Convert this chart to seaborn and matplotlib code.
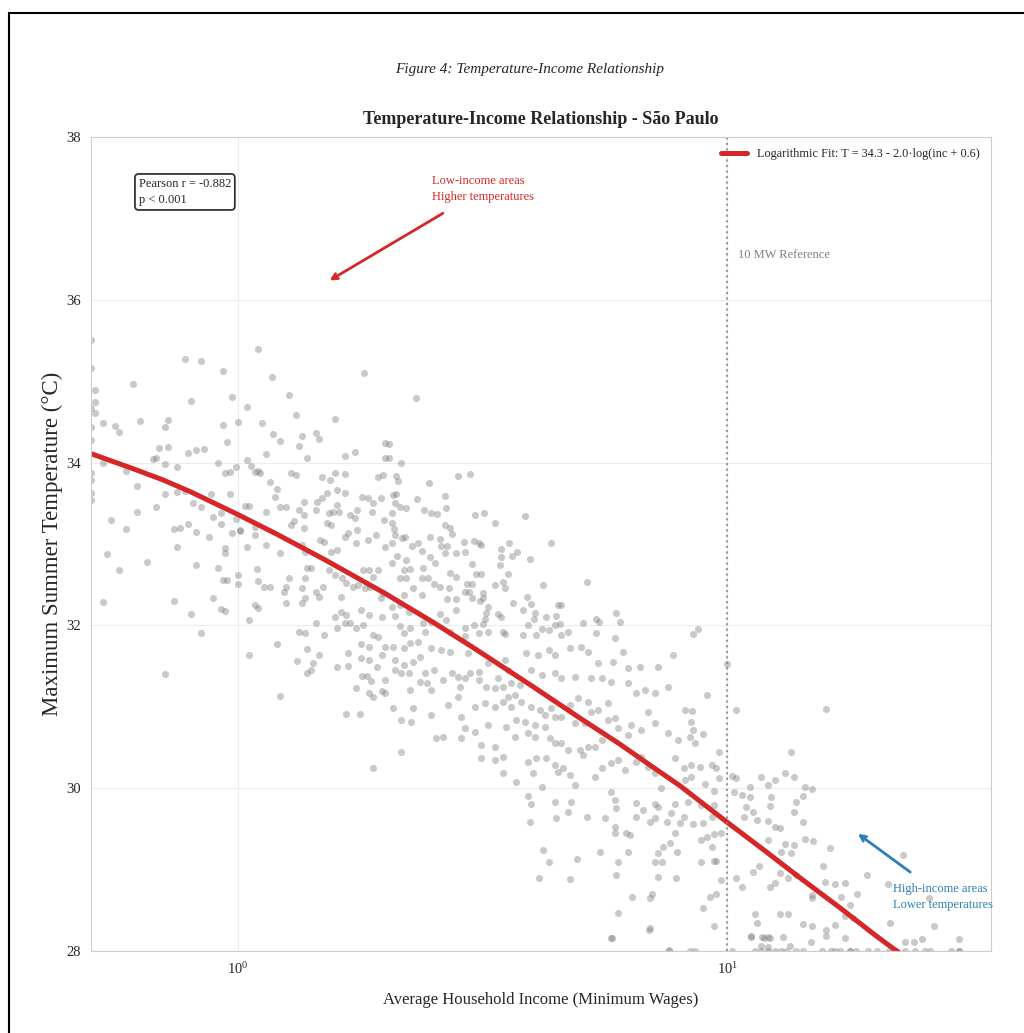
import matplotlib
matplotlib.use("Agg")
import matplotlib.pyplot as plt
from matplotlib.patches import Rectangle
import seaborn as sns
import pandas as pd

# scatter values (income in minimum wages, max summer temp in C)
income = [
    # left edge
    0.50, 0.50, 0.51, 0.51, 0.50, 0.51, 0.50, 0.50, 0.50, 0.50, 0.50, 0.50,
    # income below 2 MW
    0.78, 0.84, 0.93, 1.10, 1.17, 1.81, 0.61, 0.80, 0.97, 1.04, 1.27, 1.31, 1.58, 0.53, 0.56, 0.57,
    0.63, 0.71, 0.72, 0.93, 1.00, 1.12, 1.18, 1.22, 1.35, 1.33, 1.44, 1.46, 0.95, 0.69, 0.72, 0.79,
    0.82, 0.85, 1.14, 1.38, 1.65, 1.73, 0.67, 0.68, 0.53, 0.71, 0.75, 0.91, 0.94, 0.96, 0.99, 1.04,
    1.06, 1.08, 1.10, 1.11, 1.28, 1.31, 1.48, 1.54, 1.58, 1.65, 1.93, 1.98, 2.00, 2.00, 0.59, 0.62,
    0.71, 0.75, 0.78, 0.68, 0.62, 0.55, 0.59, 0.81, 0.84, 0.88, 0.89, 0.92, 0.92, 0.96, 0.99, 1.03,
    1.05, 1.01, 1.08, 1.08, 1.14, 1.16, 1.19, 1.20, 1.22, 1.25, 1.28, 1.30, 1.33, 1.36, 1.36, 1.36,
    1.45, 1.44, 1.48, 1.52, 1.53, 1.56, 1.61, 1.59, 1.59, 1.65, 1.69, 1.55, 1.52, 1.65, 1.68, 1.73,
    1.75, 1.75, 1.79, 1.84, 1.89, 1.88, 1.99, 1.96, 2.00, 1.84, 1.91, 1.74, 1.59, 1.55, 1.47, 1.50,
    1.37, 1.35, 1.22, 1.14, 1.04, 0.94, 0.94, 0.87, 0.82, 0.79, 0.76, 0.74, 0.75, 0.97, 1.01, 0.54,
    0.57, 0.65, 0.82, 0.91, 0.93, 0.95, 1.00, 1.00, 1.09, 1.10, 1.13, 1.16, 1.27, 1.24, 1.25, 1.35,
    1.37, 1.38, 1.41, 1.44, 1.46, 1.37, 1.25, 1.35, 1.49, 1.53, 1.58, 1.62, 1.63, 1.66, 1.72, 1.76,
    1.82, 1.86, 1.85, 1.80, 1.89, 1.93, 1.98, 1.96, 1.97, 1.85, 1.78, 1.66, 1.62, 1.65, 1.69, 1.59,
    1.74, 1.80, 1.89, 1.93, 1.58, 1.08, 1.10, 0.92, 0.94, 0.89, 0.74, 0.80, 0.53, 1.05, 0.84, 1.33,
    1.37, 1.44, 1.50,
    0.71, 1.05, 1.20, 1.22, 1.32, 1.38, 1.41, 1.38, 1.42, 1.46, 1.59, 1.68, 1.68, 1.78, 1.85, 1.78,
    1.85, 1.92, 1.97, 1.79, 1.83, 1.87, 2.00, 1.74, 1.85, 1.89, 1.97, 2.00, 1.66, 1.77, 1.89, 2.00,
    # 2 to 6 MW, upper band
    2.31, 2.03, 2.03, 2.15, 2.10, 2.12, 2.82, 2.98, 2.45, 2.07, 2.10, 2.09, 2.14, 2.20, 2.06, 2.32,
    2.40, 2.48, 2.55, 2.65, 2.66, 3.05, 3.18, 3.35, 3.86, 2.65, 2.71, 2.73, 2.06, 2.08, 2.09, 2.16,
    2.19, 2.06, 2.27, 2.33, 2.37, 2.47, 2.59, 2.60, 2.67, 2.79, 2.90, 2.91, 3.04, 3.10, 3.14, 3.45,
    3.58, 3.63, 3.72, 3.95, 4.36, 3.45, 3.43, 3.56, 3.00, 3.07, 3.14, 2.11, 2.06, 2.20, 2.18, 2.25,
    2.14, 2.20, 2.39, 2.47, 2.53, 2.65, 2.37, 2.44, 2.51, 2.59, 2.71, 2.70, 2.79, 2.93, 3.00, 2.91,
    2.96, 3.01, 2.79, 2.67, 3.12, 3.16, 3.17, 3.35, 3.48, 3.51, 3.90, 3.65, 3.82, 3.97, 4.05, 4.20,
    4.51, 4.57, 5.17, 4.47, 4.26, 5.08, 5.40, 5.47, 5.40, 5.93, 6.04, 4.73, 4.55, 4.03, 3.92, 4.17,
    4.31, 4.45, 3.51, 3.45, 3.40, 3.24, 3.21, 3.19, 3.10, 3.16, 3.04, 2.91, 2.79, 2.66, 2.58, 2.48,
    2.39, 2.37, 2.28, 2.18, 2.14, 2.06, 2.23, 2.09, 2.14, 2.25, 2.18, 2.41, 2.71, 2.91, 3.24, 3.48,
    3.82, 4.06, 4.57, 5.90, 8.50, 8.70,
    # 2 to 8 MW, lower band
    2.07, 2.18, 2.25, 2.33, 2.48, 2.60, 2.71, 2.95, 2.09, 2.18, 2.28, 2.35, 2.09, 2.15, 2.23, 2.41,
    2.51, 2.62, 2.73, 2.82, 2.98, 3.10, 3.24, 3.40, 3.56, 3.51, 3.88, 4.11, 4.31, 4.45, 4.77, 5.03,
    5.19, 5.45, 5.84, 6.12, 7.75, 6.27, 6.64, 7.22, 6.27, 6.52, 6.80, 7.12, 7.57, 6.89, 8.20, 5.79,
    5.53, 5.27, 4.89, 4.57, 4.45, 4.17, 3.97, 3.77, 3.61, 3.48, 3.35, 3.21, 3.10, 2.91, 2.84, 2.48,
    2.25, 2.35, 2.43, 2.82, 2.69, 2.07, 2.28, 2.48, 2.15, 2.26, 2.86, 3.05, 3.19, 3.35, 3.48, 3.56,
    3.68, 3.61, 3.79, 3.97, 4.14, 4.24, 4.36, 4.57, 4.77, 4.95, 5.19, 5.27, 5.45, 5.70, 5.90, 6.36,
    6.67, 7.12, 7.57, 7.93, 6.27, 5.98, 5.70, 5.12, 4.89, 4.45, 4.24, 4.05, 3.86, 3.70, 3.53, 3.24,
    3.05, 2.91, 2.86, 2.62, 2.54, 3.13, 3.35, 3.68, 3.92, 4.05, 4.34, 4.45, 4.57, 4.73, 5.00, 5.19,
    5.36, 5.53, 5.77, 5.98, 6.19, 6.49, 6.67, 6.89, 7.12, 7.33, 7.82, 8.14, 8.20, 2.15, 3.14, 3.35,
    3.48, 3.48, 3.70, 3.92, 4.06, 4.26, 4.00, 4.45, 4.51, 4.62, 4.77, 4.89, 5.08, 5.36, 5.53, 4.17,
    3.92, 3.97, 4.45, 4.73, 4.80, 4.47, 3.95, 5.17, 5.63, 5.77, 5.90, 5.93, 5.90, 5.90, 6.22, 6.33,
    6.52, 6.72, 6.49, 6.95, 7.12, 7.22, 7.12, 7.53, 7.68, 7.82, 8.00, 8.14, 7.82, 7.65, 7.39, 7.22,
    7.89, 4.20, 4.32, 4.92, 5.49, 6.27, 5.98, 7.12, 7.36, 4.12, 4.76, 5.93, 7.22, 7.86, 6.39, 6.95,
    7.00, 5.98, 6.95, 5.81, 7.61, 5.78, 6.93,
    # above 8 MW
    10.0, 9.07, 8.46, 10.4, 15.9, 8.43, 8.50, 8.90, 8.40, 8.60, 9.60, 13.5, 8.43, 8.80, 9.30, 9.50,
    8.43, 9.60, 10.2, 10.4, 11.7, 12.1, 12.5, 13.1, 13.7, 9.00, 11.1, 14.4, 14.9, 9.40, 10.3, 10.7,
    11.1, 12.3, 14.3, 8.30, 8.85, 9.40, 10.9, 12.2, 13.8, 13.7, 11.3, 10.8, 11.5, 12.1, 14.3, 8.50,
    8.90, 9.30, 12.5, 12.8, 9.10, 9.40, 9.70, 8.85, 9.30, 12.1, 13.1, 13.7, 14.4, 15.0, 16.2, 12.9,
    13.5, 8.85, 9.40, 9.50, 11.6, 11.3, 12.8, 13.3, 13.8, 15.7, 19.3, 22.9, 10.4, 9.70, 10.7, 12.2,
    12.5, 15.8, 16.6, 17.4, 18.4, 21.3, 9.20, 9.50, 14.9, 14.9, 17.1, 17.8, 25.9, 8.90, 11.4, 11.5,
    12.8, 13.3, 14.3, 14.9, 16.6, 17.4, 18.1, 21.5, 26.5, 9.40, 11.2, 11.9, 12.2, 13.0, 15.9, 15.9,
    14.8, 17.4, 23.1, 24.1, 25.0, 29.8, 11.7, 12.1, 13.4, 11.2, 11.8, 12.1,
    # clipped at 28 C
    7.6, 8.4, 8.6, 10.2, 11.4, 11.7, 12.1, 12.5, 12.9, 13.2, 13.8, 14.3, 15.6, 16.3, 16.6, 17.0,
    17.8, 17.8, 18.3, 19.4, 20.2, 21.4, 22.1, 22.1, 23.1, 24.2, 25.4, 26.0, 28.7, 29.7, 29.7,
]
temperature = [
    35.51, 35.16, 34.89, 34.74, 34.67, 34.61, 34.44, 34.28, 33.87, 33.79, 33.63, 33.54,
    35.27, 35.25, 35.13, 35.40, 35.05, 35.10, 34.97, 34.76, 34.80, 34.68, 34.83, 34.59, 34.54, 34.49, 34.45, 34.37,
    34.51, 34.44, 34.52, 34.46, 34.50, 34.49, 34.35, 34.27, 34.33, 34.20, 34.36, 34.29, 34.25, 34.18, 34.19, 34.12,
    34.15, 34.17, 34.10, 34.06, 34.08, 34.13, 34.04, 34.06, 34.00, 33.98, 33.94, 34.00, 33.87, 33.88, 33.94, 34.03,
    33.96, 33.88, 33.90, 33.87, 33.87, 33.85, 33.82, 33.79, 33.87, 33.86, 33.82, 33.85, 34.24, 34.06, 33.90, 33.71,
    33.61, 33.64, 33.65, 33.45, 33.39, 33.29, 33.18, 33.50, 33.45, 33.61, 33.33, 33.38, 33.25, 33.61, 33.31, 33.47,
    33.47, 33.17, 33.21, 33.11, 33.39, 33.76, 33.58, 33.67, 33.45, 33.45, 33.23, 33.28, 33.42, 33.52, 33.20, 33.36,
    33.52, 33.42, 33.56, 33.63, 33.38, 33.39, 33.39, 33.48, 33.66, 33.63, 33.36, 33.23, 33.26, 33.09, 33.13, 33.32,
    33.42, 33.17, 33.58, 33.56, 33.50, 33.39, 33.29, 33.56, 32.96, 33.05, 33.11, 33.01, 32.93, 32.90, 33.05, 33.02,
    32.90, 32.99, 32.89, 32.99, 32.96, 32.95, 32.89, 33.09, 33.15, 33.25, 33.20, 33.18, 32.96, 33.13, 33.16, 32.88,
    32.68, 32.78, 32.74, 32.70, 32.56, 32.56, 32.62, 32.51, 32.69, 32.55, 32.47, 32.47, 32.58, 32.41, 32.47, 32.46,
    32.58, 32.70, 32.70, 32.41, 32.35, 32.34, 32.28, 32.28, 32.47, 32.68, 32.62, 32.35, 32.58, 32.52, 32.47, 32.50,
    32.46, 32.47, 32.68, 32.68, 32.60, 32.68, 32.40, 32.34, 32.10, 32.13, 32.19, 32.13, 32.17, 32.03, 32.03, 31.97,
    31.97, 32.00, 31.88, 31.86, 32.10, 32.25, 32.21, 32.20, 32.18, 32.34, 32.30, 32.14, 32.29, 32.07, 31.91, 31.92,
    31.91, 32.03, 31.88,
    31.40, 31.64, 31.77, 31.13, 31.56, 31.71, 31.45, 31.41, 31.54, 31.64, 31.49, 31.66, 31.50, 31.77, 31.73, 31.60,
    31.58, 31.49, 31.64, 31.38, 31.38, 31.32, 31.33, 31.23, 31.17, 31.12, 31.19, 31.17, 30.91, 30.91, 30.25, 31.73,
    34.79, 34.23, 34.06, 34.00, 33.84, 33.77, 33.84, 33.86, 33.75, 33.60, 33.61, 33.50, 33.45, 33.44, 33.38, 33.55,
    33.42, 33.38, 33.37, 33.59, 33.44, 33.36, 33.38, 33.26, 33.34, 33.23, 33.20, 33.12, 33.26, 33.18, 33.11, 33.07,
    33.09, 33.01, 32.97, 33.01, 32.91, 33.09, 33.06, 32.97, 32.97, 32.89, 33.02, 32.90, 33.04, 33.01, 32.99, 32.94,
    33.01, 32.85, 32.90, 32.82, 33.01, 32.84, 32.74, 32.63, 32.75, 32.63, 32.63, 32.85, 32.77, 32.80, 32.68, 32.69,
    32.58, 32.58, 32.70, 32.84, 32.77, 32.89, 32.58, 32.58, 32.51, 32.47, 32.64, 32.46, 32.60, 32.51, 32.51, 32.41,
    32.41, 32.34, 32.32, 32.32, 32.30, 32.40, 32.34, 32.50, 32.53, 32.46, 32.35, 32.28, 32.19, 32.26, 32.15, 32.50,
    32.25, 32.25, 32.53, 32.12, 32.10, 32.03, 32.08, 32.04, 31.91, 32.15, 32.04, 31.92, 32.02, 32.08, 32.00, 31.96,
    31.94, 32.00, 31.89, 32.10, 32.14, 32.23, 32.15, 32.08, 31.91, 32.02, 32.00, 31.97, 32.19, 32.07, 32.14, 32.04,
    32.03, 32.37, 32.46, 32.37, 32.25, 32.23, 32.17, 32.12, 31.99, 31.97, 31.91, 31.92, 31.92, 31.87, 31.92, 31.92,
    31.88, 31.88, 31.88, 31.85, 31.90, 31.96,
    31.73, 31.72, 31.78, 31.80, 31.72, 31.70, 31.67, 31.66, 31.58, 31.51, 31.55, 31.61, 31.45, 31.41, 31.41, 31.41,
    31.45, 31.33, 31.41, 31.37, 31.41, 31.43, 31.54, 31.35, 31.45, 31.58, 31.66, 31.64, 31.70, 31.64, 31.72, 31.73,
    31.67, 31.54, 31.55, 31.67, 31.64, 31.48, 31.49, 31.49, 31.29, 31.17, 31.21, 31.17, 31.24, 30.94, 30.96, 31.30,
    31.35, 31.35, 31.37, 31.35, 31.41, 31.39, 31.45, 31.27, 31.29, 31.24, 31.23, 31.24, 31.33, 31.35, 31.24, 31.21,
    31.21, 31.30, 31.29, 31.12, 31.02, 30.99, 30.99, 30.90, 30.84, 30.81, 30.87, 31.00, 31.05, 31.00, 31.06, 31.12,
    31.15, 31.00, 31.06, 31.00, 30.96, 30.90, 30.99, 30.87, 31.02, 31.11, 31.06, 30.94, 30.96, 31.05, 30.86, 30.78,
    30.72, 30.80, 30.68, 30.59, 30.65, 30.74, 30.84, 30.80, 30.80, 30.87, 30.75, 30.78, 30.81, 30.84, 30.75, 30.78,
    30.69, 30.74, 30.62, 30.63, 30.62, 30.53, 30.51, 30.63, 30.68, 30.63, 30.62, 30.56, 30.56, 30.47, 30.47, 30.51,
    30.51, 30.59, 30.31, 30.35, 30.22, 30.32, 30.38, 30.26, 30.19, 30.00, 30.37, 30.25, 30.10, 30.45, 30.37, 30.35,
    30.38, 30.19, 30.08, 30.32, 30.37, 30.37, 30.19, 30.29, 30.20, 30.25, 30.16, 30.04, 30.41, 30.14, 30.25, 30.01,
    29.91, 29.81, 29.83, 29.71, 29.83, 29.63, 29.59, 29.65, 29.63, 29.95, 29.85, 29.76, 29.52, 29.45, 29.45, 29.43,
    29.82, 29.73, 29.65, 29.59, 29.81, 29.77, 29.63, 29.59, 29.69, 29.81, 29.57, 29.65, 29.45, 29.33, 29.28, 29.20,
    29.22, 29.24, 29.09, 29.13, 29.22, 29.22, 29.09, 29.09, 29.09, 28.90, 28.88, 28.93, 28.91, 28.90, 28.66, 28.65,
    28.70, 28.47, 28.28, 28.16, 28.01, 28.16, 28.26,
    31.53, 31.15, 30.95, 30.96, 30.97, 30.81, 30.72, 30.67, 30.63, 30.56, 30.45, 30.45, 30.29, 30.26, 30.29, 30.25,
    30.14, 30.12, 30.15, 30.12, 30.14, 30.04, 30.10, 30.19, 30.14, 30.05, 30.01, 30.01, 29.99, 29.97, 29.95, 29.92,
    29.89, 29.89, 29.90, 29.83, 29.79, 29.79, 29.77, 29.78, 29.83, 29.71, 29.71, 29.65, 29.61, 29.60, 29.59, 29.56,
    29.57, 29.65, 29.52, 29.51, 29.40, 29.44, 29.45, 29.36, 29.28, 29.36, 29.31, 29.30, 29.37, 29.35, 29.27, 29.22,
    29.20, 29.09, 29.10, 29.10, 29.04, 28.97, 28.96, 28.90, 28.93, 29.04, 28.93, 29.18, 28.90, 28.87, 28.79, 28.79,
    28.84, 28.85, 28.82, 28.84, 28.70, 28.82, 28.66, 28.70, 28.65, 28.69, 28.66, 28.57, 28.65, 28.53, 28.45, 28.34,
    28.45, 28.45, 28.33, 28.31, 28.32, 28.43, 28.41, 28.34, 28.31, 28.31, 28.18, 28.16, 28.16, 28.17, 28.26, 28.18,
    28.11, 28.16, 28.11, 28.11, 28.15, 28.15, 28.06, 28.05, 28.06, 28.17, 28.17, 28.17,
    28.0, 28.0, 28.0, 28.0, 28.0, 28.0, 28.0, 28.0, 28.0, 28.0, 28.0, 28.0, 28.0, 28.0, 28.0, 28.0,
    28.0, 28.0, 28.0, 28.0, 28.0, 28.0, 28.0, 28.0, 28.0, 28.0, 28.0, 28.0, 28.0, 28.0, 28.0,
]

# fitted curve
fit_income = [0.5, 0.6, 0.7, 0.8, 1.0, 1.2, 1.5, 2.0, 2.5, 3.0, 4.0, 5.0, 6.0, 7.0, 8.0, 10.0, 12.0, 14.0, 17.0, 20.0, 25.0, 30.0]
fit_temp = [34.11, 33.94, 33.79, 33.64, 33.36, 33.12, 32.81, 32.39, 32.04, 31.74, 31.25, 30.86, 30.55, 30.27, 30.03, 29.58, 29.22, 28.91, 28.53, 28.20, 27.77, 27.42]

df = pd.DataFrame({"income": income, "temp": temperature})
fit = pd.DataFrame({"income": fit_income, "temp": fit_temp})

sns.set_style("whitegrid", {"grid.color": "#ececec", "axes.edgecolor": "#cccccc"})
plt.rcParams["font.family"] = "serif"
plt.rcParams["font.serif"] = ["Liberation Serif", "DejaVu Serif"]

fig = plt.figure(figsize=(10.24, 10.33), dpi=100)
ax = fig.add_axes([91 / 1024, 1 - 951 / 1033, 900 / 1024, 814 / 1033])

sns.scatterplot(data=df, x="income", y="temp", color="#7f7f7f", alpha=0.42, s=26,
                linewidth=0, ax=ax)
sns.lineplot(data=fit, x="income", y="temp", color="#d62728", linewidth=3.6,
             label="Logarithmic Fit: T = 34.3 - 2.0\u00b7log(inc + 0.6)", ax=ax)

ax.set_xscale("log")
ax.set_xlim(0.5, 34.6)
ax.set_ylim(28, 38)
ax.set_yticks([28, 30, 32, 34, 36, 38])
ax.tick_params(labelsize=10.5)
ax.tick_params(axis="y", pad=4)

ax.axvline(10, color="gray", linestyle=":", linewidth=1.5, alpha=0.8)
ax.text(10.5, 36.55, "10 MW Reference", color="gray", fontsize=9, va="center")

ax.text(0.053, 0.95, "Pearson r = -0.882\np < 0.001", transform=ax.transAxes,
        fontsize=9, va="top", linespacing=1.5,
        bbox=dict(boxstyle="round,pad=0.3", facecolor="white", edgecolor="#333333", linewidth=1.3))

# annotations
ax.annotate("", xy=(1.52, 36.22), xytext=(2.65, 37.08),
            arrowprops=dict(arrowstyle="->", color="#d62728", lw=2))
ax.text(2.49, 37.36, "Low-income areas\nHigher temperatures", color="#d62728",
        fontsize=9, va="center", linespacing=1.45)
ax.annotate("", xy=(18.3, 29.46), xytext=(23.9, 28.95),
            arrowprops=dict(arrowstyle="->", color="#2c7fb8", lw=2))
ax.text(21.85, 28.66, "High-income areas\nLower temperatures", color="#2c7fb8",
        fontsize=9, va="center", linespacing=1.45)

ax.legend(loc="upper right", frameon=False, fontsize=8.8, handlelength=2.2)

ax.set_xlabel("Average Household Income (Minimum Wages)", fontsize=12, labelpad=11)
ax.set_ylabel("Maximum Summer Temperature (\u00b0C)", fontsize=16.5, labelpad=2)
ax.set_title("Temperature-Income Relationship - S\u00e3o Paulo", fontsize=13,
             fontweight="bold", pad=9)
fig.text(530 / 1024, 1 - 70 / 1033, "Figure 4: Temperature-Income Relationship",
         fontsize=11, style="italic", ha="center", va="center")

# outer frame of the page
fig.add_artist(Rectangle((9 / 1024, -0.1), 1.2, 1.1 - 12.5 / 1033, transform=fig.transFigure,
                         fill=False, edgecolor="black", linewidth=1.5, clip_on=False))

fig.savefig("out.png", dpi=100)
